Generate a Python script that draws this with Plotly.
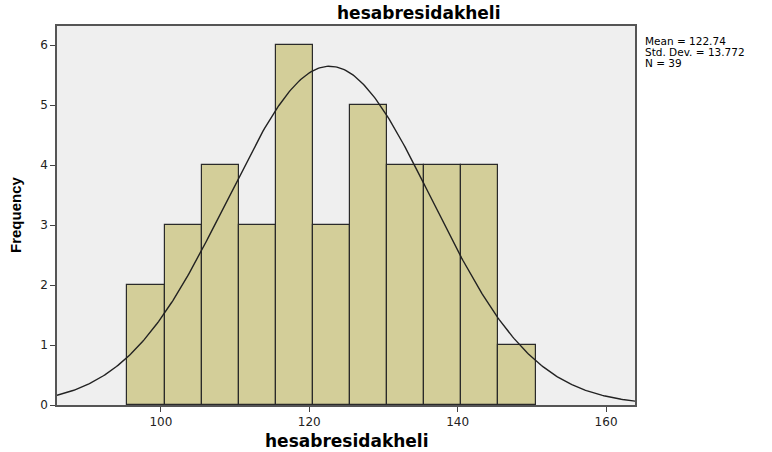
import numpy as np
import plotly.graph_objects as go

bin_starts = [95.5, 100.5, 105.5, 110.5, 115.5, 120.5, 125.5, 130.5, 135.5, 140.5, 145.5]
counts = [2, 3, 4, 3, 6, 3, 5, 4, 4, 4, 1]
bin_width = 5
mean = 122.74
std = 13.772
n = 39
x_ticks = [100, 120, 140, 160]
y_ticks = [0, 1, 2, 3, 4, 5, 6]
stats_lines = ["Mean = 122.74", "Std. Dev. = 13.772", "N = 39"]

centers = [s + bin_width / 2 for s in bin_starts]

fig = go.Figure()
fig.add_trace(go.Bar(
    x=centers, y=counts, width=[bin_width] * len(counts),
    marker=dict(color="#D3CE99", line=dict(color="#2a2a2a", width=1.2)),
    hoverinfo="x+y", showlegend=False,
))

xc = np.linspace(86, 164, 400)
yc = n * bin_width / (std * np.sqrt(2 * np.pi)) * np.exp(-0.5 * ((xc - mean) / std) ** 2)
fig.add_trace(go.Scatter(x=xc, y=yc, mode="lines",
                         line=dict(color="#222222", width=1.4), showlegend=False))

# plot area in page pixels: x 57..635, y 26..405
annotations = [
    dict(text="<b>hesabresidakheli</b>", xref="paper", yref="paper", x=(418 - 57) / 578, y=(405 - 13) / 379,
         xanchor="center", yanchor="middle", showarrow=False,
         font=dict(family="DejaVu Sans", size=17, color="black")),
    dict(text="<b>hesabresidakheli</b>", xref="paper", yref="paper", x=(346 - 57) / 578, y=(405 - 441) / 379,
         xanchor="center", yanchor="middle", showarrow=False,
         font=dict(family="DejaVu Sans", size=17, color="black")),
    dict(text="<b>Frequency</b>", xref="paper", yref="paper", x=(15 - 57) / 578, y=(405 - 215) / 379,
         xanchor="center", yanchor="middle", showarrow=False, textangle=-90,
         font=dict(family="Liberation Sans Narrow, Liberation Sans", size=15, color="black")),
]
for i, line in enumerate(stats_lines):
    annotations.append(dict(
        text=line, xref="paper", yref="paper", x=(643 - 57) / 578, y=(405 - (41 + 11 * i)) / 379,
        xanchor="left", yanchor="middle", showarrow=False, align="left",
        font=dict(family="DejaVu Sans", size=10.5, color="black"),
    ))

fig.update_layout(
    width=772, height=452,
    margin=dict(l=57, r=137, t=26, b=47),
    paper_bgcolor="white", plot_bgcolor="#EFEFEF",
    font=dict(family="DejaVu Sans", size=12, color="#222222"),
    bargap=0,
    annotations=annotations,
)
fig.update_xaxes(
    range=[86, 163.9], tickvals=x_ticks, ticks="outside", ticklen=5, tickcolor="#444",
    showgrid=False, zeroline=False, showline=True, linecolor="#555", linewidth=1.5, mirror=True,
)
fig.update_yaxes(
    range=[0, 6.32], tickvals=y_ticks, ticks="outside", ticklen=5, tickcolor="#444",
    showgrid=False, zeroline=False, showline=True, linecolor="#555", linewidth=1.5, mirror=True,
)
fig.write_html("out.html", config={"displayModeBar": False},
               post_script="document.body.style.margin='0';")
